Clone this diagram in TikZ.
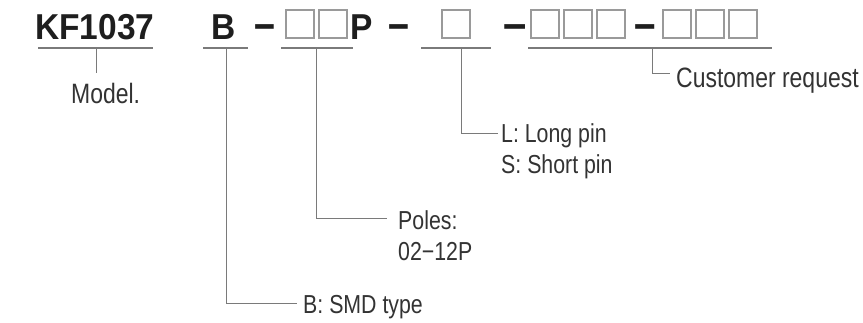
\documentclass[tikz,border=0pt]{standalone}
\usepackage{fontspec}
\setmainfont{Liberation Sans}
\newfontfamily\cond[FakeStretch=0.82]{Liberation Sans}
\newfontfamily\bcond[FakeStretch=0.93]{Liberation Sans}
\definecolor{txt}{HTML}{333333}
\definecolor{btxt}{HTML}{1E1E1E}
\definecolor{ln}{HTML}{7A7A7A}
\definecolor{bx}{HTML}{9A9A9A}
\tikzset{
  code/.style={inner sep=0pt, anchor=base west, text=btxt, font=\bcond\bfseries\fontsize{36}{38}\selectfont},
  dashchar/.style={inner sep=0pt, anchor=base west, text=btxt, font=\bcond\bfseries\fontsize{36}{38}\selectfont},
  biglabel/.style={inner sep=0pt, anchor=base west, text=txt, font=\cond\fontsize{28}{30}\selectfont},
  label/.style={inner sep=0pt, anchor=base west, text=txt, font=\cond\fontsize{26}{31}\selectfont},
  cell/.style={draw=bx, line width=1.1pt},
  uline/.style={draw=ln, line width=1.1pt},
  lead/.style={draw=ln, line width=1pt}
}
\begin{document}
\begin{tikzpicture}[x=1pt,y=-1pt]
\useasboundingbox[fill=white] (0,0) rectangle (863,322);
% code text
\node[code] (kf) at (35,39) {KF1037};
\node[code] (b) at (211,39) {B};
\node[dashchar] (d1) at (254,39) {\scalebox{1.12}[1.3]{–}};
\node[code] (p) at (350,39) {P};
\node[dashchar] (d2) at (388,39) {\scalebox{1.12}[1.3]{–}};
\node[dashchar] (d3) at (503,39) {\scalebox{1.25}[1.3]{–}};
\node[dashchar] (d4) at (634,39) {\scalebox{1.15}[1.3]{–}};
% boxes
\foreach \x/\n in {286/c1,319/c2,442/c3,531/c4,564/c5,597/c6,663/c7,696/c8,729/c9}{
  \draw[cell] (\x,10) rectangle ++(28,28);
}
% underlines
\coordinate (u1a) at (38,48);  \coordinate (u1b) at (153,48);
\coordinate (u2a) at (203,48); \coordinate (u2b) at (248,48);
\coordinate (u3a) at (281,48); \coordinate (u3b) at (353,48);
\coordinate (u4a) at (421,48); \coordinate (u4b) at (491,48);
\coordinate (u5a) at (528,48); \coordinate (u5b) at (772,48);
\draw[uline] (u1a) -- (u1b);
\draw[uline] (u2a) -- (u2b);
\draw[uline] (u3a) -- (u3b);
\draw[uline] (u4a) -- (u4b);
\draw[uline] (u5a) -- (u5b);
% labels
\node[biglabel] (model) at (71,103) {Model.};
\node[biglabel] (cust) at (676,87) {Customer request};
\node[label] (pinL) at (501,142) {L: Long pin};
\node[label] (pinS) at (501,173) {S: Short pin};
\node[label] (poles) at (398,229) {Poles:};
\node[label] (polesv) at (398,260) {02−12P};
\node[label] (smd) at (303,313) {B: SMD type};
% leaders
\coordinate (t1) at (96,48);  \coordinate (t1e) at (96,73);
\coordinate (t2) at (226,48); \coordinate (t2e) at (297,303);
\coordinate (t3) at (316,48); \coordinate (t3e) at (387,218);
\coordinate (t4) at (461,48); \coordinate (t4e) at (498,133);
\coordinate (t5) at (652,48); \coordinate (t5e) at (670,73);
\draw[lead] (t1) -- (t1e);
\draw[lead] (t2) |- (t2e);
\draw[lead] (t3) |- (t3e);
\draw[lead] (t4) |- (t4e);
\draw[lead] (t5) |- (t5e);
\end{tikzpicture}
\end{document}
